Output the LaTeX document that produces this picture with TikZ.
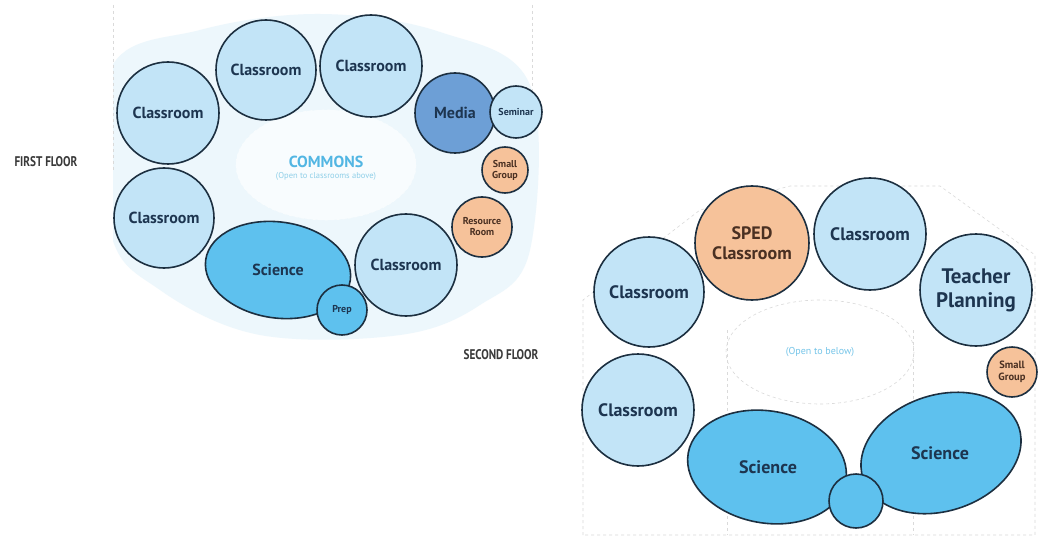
\documentclass[tikz,border=0pt]{standalone}
\usepackage{fontspec}
\setmainfont{PT Sans}
\newfontfamily\condfont[FakeStretch=0.8]{PT Sans}
\usetikzlibrary{shapes.geometric}
\definecolor{edge}{HTML}{1C2F40}
\definecolor{lightroom}{HTML}{C2E4F7}
\definecolor{scifill}{HTML}{5EC1EE}
\definecolor{mediafill}{HTML}{6D9FD6}
\definecolor{orangefill}{HTML}{F6C29A}
\definecolor{navytext}{HTML}{1D3550}
\definecolor{browntext}{HTML}{4A3022}
\definecolor{bgblue}{HTML}{EDF7FC}
\definecolor{commons}{HTML}{52B6E3}
\definecolor{subcyan}{HTML}{8FCFE8}
\definecolor{floorgray}{HTML}{3A3A3A}
\definecolor{dashgray}{HTML}{DADADA}
\begin{document}
\begin{tikzpicture}[x=1pt,y=-1pt,
  room/.style={circle, draw=edge, line width=1.6pt, fill=lightroom, inner sep=0pt,
    align=center, text=navytext, font=\bfseries\fontsize{16}{17}\selectfont},
  bigroom/.style={room, font=\bfseries\fontsize{18}{19}\selectfont},
  orangeroom/.style={room, fill=orangefill, text=browntext},
  smallroom/.style={room, font=\bfseries\fontsize{10}{11}\selectfont},
  ellroom/.style={draw=edge, line width=1.6pt, fill=scifill},
  label/.style={inner sep=0pt, text=navytext, font=\bfseries\fontsize{16}{17}\selectfont},
  floorlabel/.style={inner sep=0pt, text=floorgray, font=\condfont\bfseries\fontsize{14}{14}\selectfont},
  guide/.style={draw=dashgray, dashed, line width=0.6pt}
]
\useasboundingbox (0,0) rectangle (1038,540);
\fill[white] (0,0) rectangle (1038,540);

% ---------- FIRST FLOOR ----------
\begin{scope}
\clip (113,0) rectangle (540,345);
\fill[bgblue] plot[smooth cycle, tension=0.6] coordinates
  {(110,70) (200,30) (320,14) (440,32) (530,85) (530,250) (480,305) (400,335) (260,335) (160,290) (110,230)};
\end{scope}
\draw[guide] (113,5) -- (113,170);
\draw[guide] (532,5) -- (532,100);
\draw[draw=white!70!bgblue, dashed, fill=white!60!bgblue, line width=0.6pt] (326,165) ellipse [x radius=90, y radius=55];
\node[inner sep=0pt, text=commons, font=\bfseries\fontsize{16}{17}\selectfont] (commons) at (326,162) {COMMONS};
\node[inner sep=0pt, text=subcyan, font=\fontsize{8.5}{9}\selectfont] (commonssub) at (326,176) {(Open to classrooms above)};

\node[floorlabel] (ff) at (46,162) {FIRST FLOOR};

\node[room, minimum size=102] (c1) at (168,113) {Classroom};
\node[room, minimum size=100] (c2) at (266,70) {Classroom};
\node[room, minimum size=102] (c3) at (371,66) {Classroom};
\node[room, minimum size=80, fill=mediafill] (media) at (455,113) {Media};
\node[smallroom, minimum size=52] (seminar) at (516,112) {Seminar};
\node[smallroom, orangeroom, minimum size=46, font=\bfseries\fontsize{10}{11}\selectfont] (sg1) at (505,170) {Small\\Group};
\node[smallroom, orangeroom, minimum size=60, font=\bfseries\fontsize{10}{11}\selectfont] (rr) at (482,227) {Resource\\Room};
\node[room, minimum size=102] (c4) at (406,265) {Classroom};
\node[room, minimum size=100] (c5) at (164,218) {Classroom};
\draw[ellroom, rotate around={-8:(278,270)}] (278,270) ellipse [x radius=73, y radius=48];
\node[label] (sci1) at (278,270) {Science};
\node[smallroom, fill=scifill, minimum size=50] (prep) at (342,310) {Prep};

% ---------- SECOND FLOOR ----------
\draw[guide] (583,535) -- (583,300) -- (700,210) -- (790,186) -- (940,186) -- (1035,255) -- (1035,535) -- cycle;
\draw[guide] (820,352) ellipse [x radius=94, y radius=52];
\draw[guide] (727,330) -- (727,535);
\draw[guide] (913,330) -- (913,535);
\node[inner sep=0pt, text=commons!80, font=\fontsize{10}{11}\selectfont] (openbelow) at (820,352) {(Open to below)};

\node[floorlabel] (sf) at (501,355) {SECOND FLOOR};

\node[bigroom, minimum size=110] (d1) at (649,292) {Classroom};
\node[bigroom, orangeroom, minimum size=114, font=\bfseries\fontsize{18}{20}\selectfont] (sped) at (752,243) {SPED\\Classroom};
\node[bigroom, minimum size=112] (d2) at (870,234) {Classroom};
\node[bigroom, minimum size=112, font=\bfseries\fontsize{21}{24}\selectfont] (tp) at (976,290) {Teacher\\Planning};
\node[smallroom, orangeroom, minimum size=50, font=\bfseries\fontsize{10.5}{11.5}\selectfont] (sg2) at (1012,372) {Small\\Group};
\node[bigroom, minimum size=112] (d3) at (638,410) {Classroom};
\draw[ellroom, rotate around={-10:(767,467)}] (767,467) ellipse [x radius=80, y radius=56];
\draw[ellroom, rotate around={18:(941,453)}] (941,453) ellipse [x radius=82, y radius=58];
\node[label, font=\bfseries\fontsize{18}{19}\selectfont] (sci2) at (768,467) {Science};
\node[label, font=\bfseries\fontsize{18}{19}\selectfont] (sci3) at (940,453) {Science};
\node[room, fill=scifill, minimum size=54] (lab) at (856,501) {};
\end{tikzpicture}
\end{document}
